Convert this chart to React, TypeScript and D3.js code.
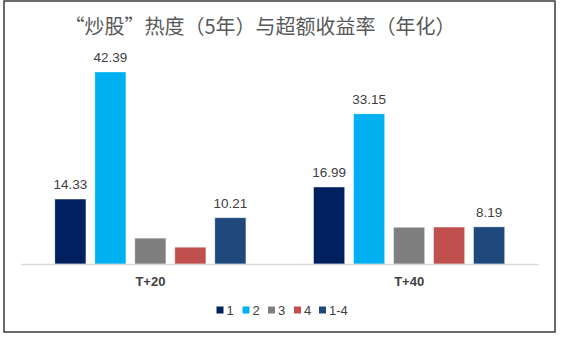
import React from "react";
import * as d3 from "d3";

const categories = ["T+20", "T+40"];
const seriesNames = ["1", "2", "3", "4", "1-4"];
const seriesColors = ["#002060", "#00B0F0", "#7F7F7F", "#C0504D", "#1F497D"];
const valuesT20 = [14.33, 42.39, 5.7, 3.7, 10.21];
const valuesT40 = [16.99, 33.15, 8.1, 8.15, 8.19];
const labelsT20 = ["14.33", "42.39", "", "", "10.21"];
const labelsT40 = ["16.99", "33.15", "", "", "8.19"];
const title = "“炒股”热度（5年）与超额收益率（年化）";

const W = 562;
const H = 337;

export default function App() {
  const values = [valuesT20, valuesT40];
  const labels = [labelsT20, labelsT40];
  const x0 = d3.scaleBand<string>().domain(categories).range([21, 538.5]).padding(0);
  const x1 = d3
    .scaleBand<string>()
    .domain(seriesNames)
    .range([0, x0.bandwidth()])
    .paddingInner(0.225)
    .paddingOuter(0.847);
  const y = d3.scaleLinear().domain([0, 45]).range([264, 60.2]);
  const font = "'Liberation Sans', Arial, 'Noto Sans CJK SC', sans-serif";

  const legendX = [216.5, 242.5, 268, 294, 319];

  return (
    <svg
      width={W}
      height={H}
      style={{ position: "absolute", left: 0, top: 0, display: "block", background: "#fff" }}
      fontFamily={font}
    >
      <rect x={0} y={0} width={W} height={H} fill="#fff" />
      <rect x={4} y={1} width={551} height={331} fill="none" stroke="#3a3a3a" strokeWidth={1.5} />
      <text
        x={260}
        y={34}
        textAnchor="middle"
        fontSize={20}
        fill="#595959"
        fontFamily="'Noto Sans CJK SC', 'Liberation Sans', sans-serif"
      >
        {title}
      </text>
      {categories.map((c, gi) => (
        <g key={c} transform={`translate(${x0(c)},0)`}>
          {seriesNames.map((s, si) => {
            const v = values[gi][si];
            const bx = x1(s)!;
            return (
              <g key={s}>
                <rect
                  x={bx}
                  y={y(v)}
                  width={x1.bandwidth()}
                  height={y(0) - y(v)}
                  fill={seriesColors[si]}
                  stroke="#ffffff"
                  strokeOpacity={0.4}
                  strokeWidth={0.75}
                />
                {labels[gi][si] && (
                  <text
                    x={bx + x1.bandwidth() / 2}
                    y={y(v) - 10}
                    textAnchor="middle"
                    fontSize={13.5}
                    fill="#404040"
                  >
                    {labels[gi][si]}
                  </text>
                )}
              </g>
            );
          })}
          <text
            x={x0.bandwidth() / 2}
            y={286}
            textAnchor="middle"
            fontSize={13}
            fontWeight="bold"
            fill="#404040"
          >
            {c}
          </text>
        </g>
      ))}
      <line x1={21} x2={538.5} y1={264.5} y2={264.5} stroke="#d9d9d9" strokeWidth={1.5} />
      {seriesNames.map((s, i) => (
        <g key={s} transform={`translate(${legendX[i]},0)`}>
          <rect x={0} y={306.5} width={7} height={7} fill={seriesColors[i]} />
          <text x={10} y={314.5} fontSize={13} fill="#404040">
            {s}
          </text>
        </g>
      ))}
    </svg>
  );
}
